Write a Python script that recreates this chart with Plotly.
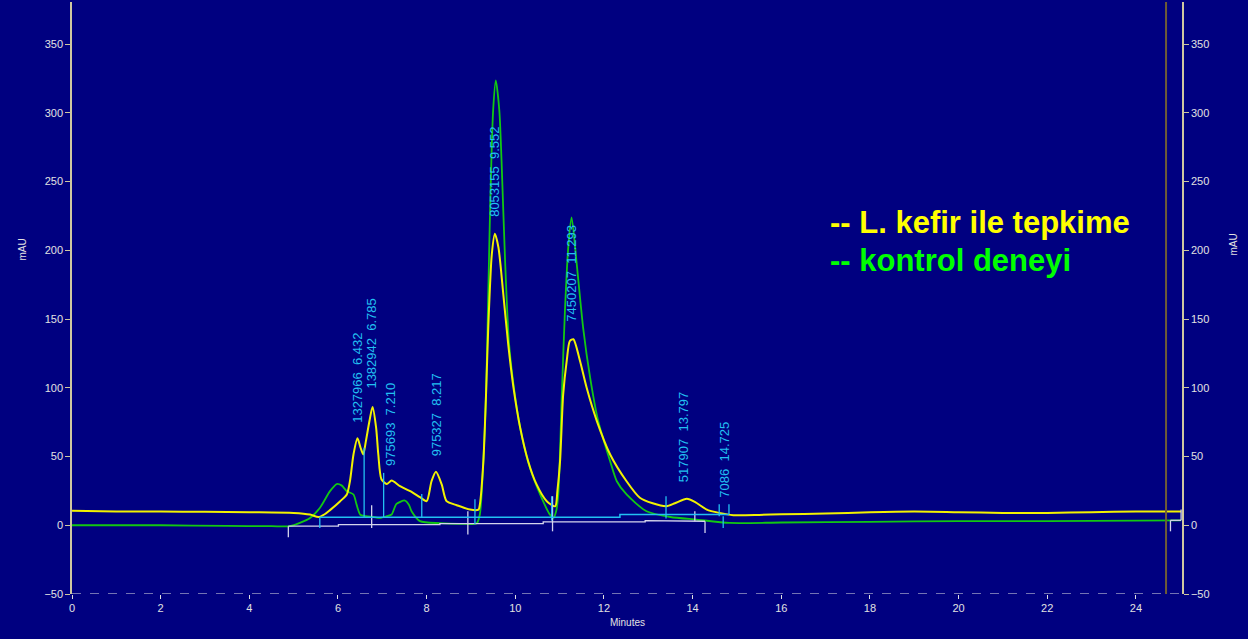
import plotly.graph_objects as go

# ---------------- data ----------------
# Yellow trace: "L. kefir ile tepkime"
t_kefir = [0.0, 1.0, 2.0, 3.0, 4.0, 5.0, 5.37, 5.56, 5.70, 5.82, 6.05, 6.20, 6.27, 6.35, 6.44,
           6.51, 6.57, 6.63, 6.71, 6.78, 6.86, 6.91, 6.98, 7.10, 7.21, 7.40, 7.63, 7.85, 8.00,
           8.11, 8.21, 8.34, 8.45, 8.68, 8.98, 9.17, 9.20, 9.28, 9.34, 9.39, 9.47, 9.54, 9.62,
           9.73, 9.84, 9.96, 10.11, 10.29, 10.48, 10.71, 10.90, 10.95, 11.01, 11.08, 11.16,
           11.23, 11.31, 11.46, 11.61, 11.84, 12.14, 12.51, 12.81, 13.10, 13.41, 13.60, 13.87,
           14.05, 14.32, 14.60, 14.92, 15.5, 16.0, 17.0, 18.0, 19.0, 20.0, 21.0, 22.0, 23.0,
           24.0, 25.02]
v_kefir = [10.5, 10.0, 10.0, 9.8, 9.5, 9.0, 7.8, 6.0, 8.0, 11.0, 17.5, 22.4, 32.0, 51.5, 63.2,
           56.4, 51.5, 61.2, 75.8, 86.0, 71.0, 51.5, 33.5, 30.0, 32.5, 28.4, 24.8, 20.4, 17.5,
           32.0, 38.9, 29.7, 17.5, 14.6, 11.4, 11.4, 15.0, 46.6, 95.0, 143.8, 197.0, 212.0, 202.0,
           168.0, 131.7, 100.0, 71.0, 46.6, 29.7, 17.5, 13.8, 25.0, 46.6, 95.0, 119.5,
           134.0, 135.3, 119.5, 100.0, 75.8, 51.5, 32.0, 20.0, 16.0, 13.9, 16.0, 19.2,
           17.0, 11.4, 9.0, 7.3, 7.5, 8.0, 8.5, 9.5, 10.0, 9.5, 9.0, 9.0, 9.5,
           10.0, 10.0]

# Green trace: "kontrol deneyi"
t_kontrol = [0.0, 2.0, 3.5, 4.5, 4.92, 5.14, 5.37, 5.59, 5.82, 5.97, 6.08, 6.20, 6.35, 6.42,
             6.50, 6.57, 6.80, 6.95, 7.10, 7.21, 7.32, 7.51, 7.60, 7.66, 7.85, 8.30, 8.80,
             9.13, 9.20, 9.28, 9.34, 9.39, 9.44, 9.50, 9.56, 9.64, 9.69, 9.77, 9.86, 9.99,
             10.14, 10.33, 10.56, 10.78, 10.86, 10.92, 10.97, 11.05, 11.12, 11.20, 11.27,
             11.38, 11.53, 11.69, 11.87, 12.14, 12.29, 12.51, 12.96, 13.50, 14.09, 14.84,
             16.0, 18.0, 20.0, 22.0, 25.02]
v_kontrol = [0.0, 0.0, -0.5, -0.7, -0.7, 1.7, 5.3, 12.6, 24.8, 30.0, 29.0, 24.8, 22.4, 15.0,
             7.8, 7.0, 6.0, 5.3, 6.6, 7.8, 15.5, 18.0, 15.0, 10.2, 3.0, 1.5, 1.0,
             1.5, 7.8, 46.6, 95.0, 168.0, 241.0, 301.7, 323.6, 301.7, 265.0, 192.0, 131.7, 95.0,
             66.0, 41.8, 22.4, 7.8, 5.3, 10.0, 22.4, 95.0, 156.0, 204.6, 224.0,
             192.0, 143.8, 107.0, 75.8, 46.6, 32.0, 22.4, 10.2, 6.0, 4.1, 1.7,
             2.0, 2.5, 3.0, 3.0, 3.5]

# Peak labels (area, retention time) and where each label starts
peak_area = ["1327966", "1382942", "975693", "975327", "8053155", "7450207", "517907", "7086"]
peak_rt = ["6.432", "6.785", "7.210", "8.217", "9.552", "11.293", "13.797", "14.725"]
label_t = [6.44, 6.76, 7.19, 8.21, 9.54, 11.28, 13.80, 14.71]
label_v = [73.4, 97.7, 41.8, 49.0, 222.8, 146.3, 29.7, 18.7]

# Integration baseline (cyan) and peak boundary marks
cyan_base_t = [5.59, 12.36, 12.36, 14.82]
cyan_base_v = [5.8, 5.8, 7.8, 7.8]
cyan_mark_t = [5.59, 6.59, 7.03, 7.89, 9.09, 10.82, 13.40, 14.60, 14.69, 14.82]
cyan_mark_lo = [-2.0, 5.8, 5.8, 5.8, 0.9, 3.4, 4.9, 6.6, -2.0, 8.0]
cyan_mark_hi = [5.8, 56.3, 38.1, 22.8, 19.0, 21.1, 21.1, 15.3, 6.6, 15.3]

# Integration baseline (white) and its event marks
white_base_t = [4.88, 6.01, 6.01, 8.30, 8.30, 10.63, 10.63, 12.93, 12.93, 14.05, 14.05, 14.28]
white_base_v = [-0.7, -0.7, 0.5, 0.5, 1.2, 1.2, 2.4, 2.4, 3.4, 3.4, 2.9, 2.9]
white_end_t = [24.78, 25.02]
white_end_v = [3.6, 3.6]
white_mark_t = [4.88, 6.76, 8.93, 10.84, 14.05, 14.28, 24.78, 25.02]
white_mark_lo = [-8.7, -2.0, -6.8, -4.4, 2.9, -5.6, -4.4, 3.6]
white_mark_hi = [-0.7, 14.6, 10.2, 21.1, 10.2, 2.9, 3.6, 11.4]

run_end_t = 24.68          # brown vertical line
x_max = 25.04
y_min, y_max = -50, 380.6
y_ticks = [-50, 0, 50, 100, 150, 200, 250, 300, 350]
x_ticks = [0, 2, 4, 6, 8, 10, 12, 14, 16, 18, 20, 22, 24]

legend_lines = ["-- L. kefir ile tepkime", "-- kontrol deneyi"]

# ---------------- styles ----------------
NAVY = "#000080"
YELLOW = "#F2F200"
GREEN = "#12C812"
CYAN = "#22C0F2"
WHITE = "#D4D4EC"
AXIS = "#CFC7A0"
TICKTXT = "#E2E2E2"
FONT = "Liberation Sans, Arial, sans-serif"


def segments(ts, lo, hi):
    xs, ys = [], []
    for t, a, b in zip(ts, lo, hi):
        xs += [t, t, None]
        ys += [a, b, None]
    return xs, ys


fig = go.Figure()

fig.add_trace(go.Scatter(x=t_kontrol, y=v_kontrol, mode="lines",
                         line=dict(color=GREEN, width=1.8, shape="spline", smoothing=0.7),
                         hoverinfo="skip"))
fig.add_trace(go.Scatter(x=t_kefir, y=v_kefir, mode="lines",
                         line=dict(color=YELLOW, width=2, shape="spline", smoothing=0.7),
                         hoverinfo="skip"))

# white baseline + marks
fig.add_trace(go.Scatter(x=white_base_t + [None] + white_end_t,
                         y=white_base_v + [None] + white_end_v, mode="lines",
                         line=dict(color=WHITE, width=1.3), hoverinfo="skip"))
wx, wy = segments(white_mark_t, white_mark_lo, white_mark_hi)
fig.add_trace(go.Scatter(x=wx, y=wy, mode="lines",
                         line=dict(color=WHITE, width=1.3), hoverinfo="skip"))

# cyan baseline + marks
fig.add_trace(go.Scatter(x=cyan_base_t, y=cyan_base_v, mode="lines",
                         line=dict(color=CYAN, width=1.5), hoverinfo="skip"))
cx, cy = segments(cyan_mark_t, cyan_mark_lo, cyan_mark_hi)
fig.add_trace(go.Scatter(x=cx, y=cy, mode="lines",
                         line=dict(color=CYAN, width=1.3), hoverinfo="skip"))

# invisible trace for the right-hand axis
fig.add_trace(go.Scatter(x=[0], y=[0], yaxis="y2", mode="markers",
                         marker=dict(opacity=0), hoverinfo="skip"))

annotations = []
for a, rt, t, v in zip(peak_area, peak_rt, label_t, label_v):
    annotations.append(dict(x=t, y=v, xref="x", yref="y", text=f"{a}&nbsp;&nbsp;{rt}",
                            textangle=-90, xanchor="center", yanchor="bottom",
                            showarrow=False, font=dict(family=FONT, size=13, color=CYAN)))

annotations.append(dict(x=0.681, y=(594 - 222) / 592, xref="paper", yref="paper",
                        text=legend_lines[0], xanchor="left", yanchor="middle", showarrow=False,
                        font=dict(family=FONT, size=31, color="#FFFF00", weight="bold")))
annotations.append(dict(x=0.681, y=(594 - 260) / 592, xref="paper", yref="paper",
                        text=legend_lines[1], xanchor="left", yanchor="middle", showarrow=False,
                        font=dict(family=FONT, size=31, color="#00FF00", weight="bold")))

annotations.append(dict(x=(14 - 72) / 1110, y=(594 - 250) / 592, xref="paper", yref="paper",
                        text="mAU", textangle=-90, showarrow=False,
                        font=dict(family=FONT, size=10, color=TICKTXT)))
annotations.append(dict(x=(1240 - 72) / 1110, y=(594 - 245) / 592, xref="paper", yref="paper",
                        text="mAU", textangle=-90, showarrow=False,
                        font=dict(family=FONT, size=10, color=TICKTXT)))
annotations.append(dict(x=0.5, y=(594 - 630) / 592, xref="paper", yref="paper",
                        text="Minutes", showarrow=False,
                        font=dict(family=FONT, size=10, color=TICKTXT)))

shapes = [
    dict(type="line", xref="x", yref="paper", x0=run_end_t, x1=run_end_t, y0=0, y1=1,
         line=dict(color="#6E5C36", width=2)),
    dict(type="line", xref="paper", yref="y", x0=0, x1=1, y0=y_min, y1=y_min,
         line=dict(color="#E6E6E6", width=1, dash="dash")),
]

yax = dict(range=[y_min, y_max], tickvals=y_ticks, showgrid=False, zeroline=False,
           showline=True, linecolor=AXIS, linewidth=1.5, ticks="outside", ticklen=5,
           tickcolor=AXIS, tickwidth=1, tickfont=dict(family=FONT, size=11, color=TICKTXT),
           fixedrange=True)

fig.update_layout(
    width=1248, height=639,
    margin=dict(l=72, r=66, t=2, b=45),
    paper_bgcolor=NAVY, plot_bgcolor=NAVY,
    showlegend=False,
    xaxis=dict(range=[0, x_max], tickvals=x_ticks, showgrid=False, zeroline=False,
               showline=False, ticks="outside", ticklen=4, tickcolor="#E0E0E0",
               tickfont=dict(family=FONT, size=11, color=TICKTXT)),
    yaxis=yax,
    yaxis2=dict(yax, overlaying="y", side="right", anchor="x"),
    annotations=annotations,
    shapes=shapes,
)

fig.write_html("out.html")
